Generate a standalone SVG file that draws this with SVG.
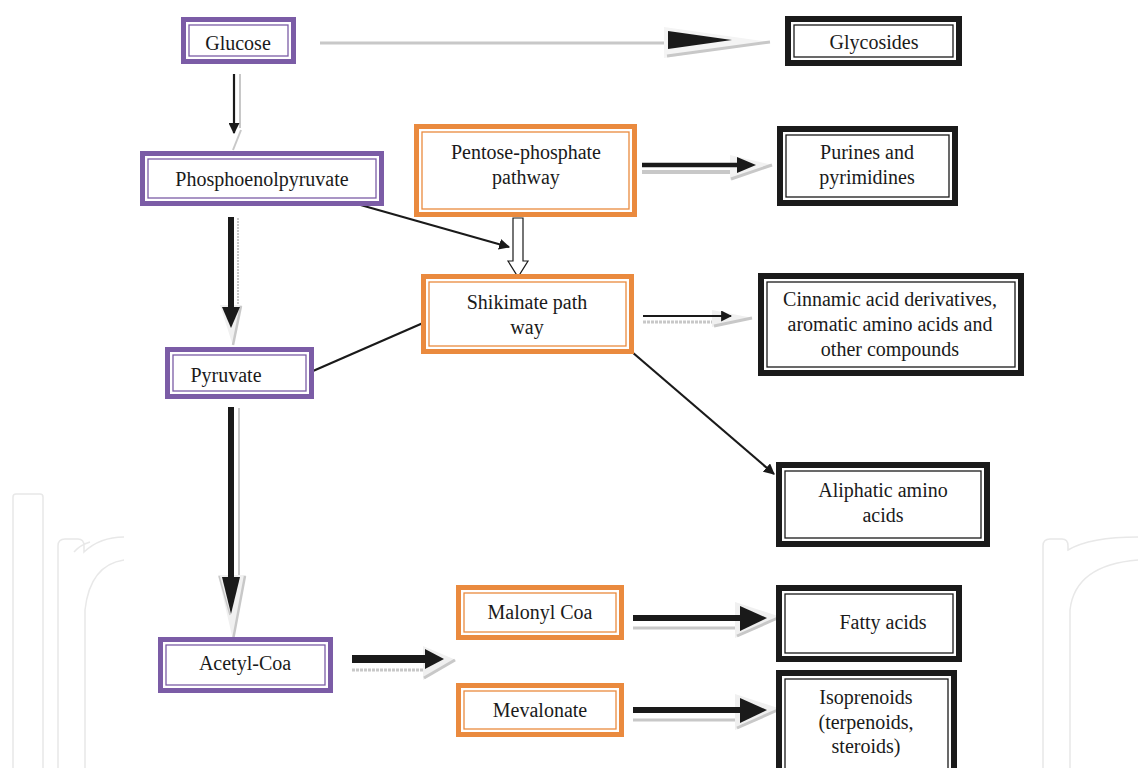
<svg xmlns="http://www.w3.org/2000/svg" width="1138" height="768" viewBox="0 0 1138 768">
<style>
.t{font-family:"Liberation Serif","Times New Roman",serif;font-size:20px;fill:#1a1a1a;text-anchor:middle}
.po{fill:#fff;stroke:#7b5ca6;stroke-width:5}
.pi{fill:none;stroke:#7b5ca6;stroke-width:1.3}
.oo{fill:#fff;stroke:#ea8a3e;stroke-width:5}
.oi{fill:none;stroke:#ea8a3e;stroke-width:1.3}
.bo{fill:#fff;stroke:#1a1a1a;stroke-width:6}
.bi{fill:none;stroke:#1a1a1a;stroke-width:1.3}
.ln{stroke:#1a1a1a;stroke-width:2.2;fill:none}
.sh{stroke:#c8c8c8;fill:none}
.hd{fill:#1a1a1a}
.wm{fill:none;stroke:#e8e8e8;stroke-width:1.5}
</style>
<defs>
<marker id="ah" viewBox="0 0 10 10" refX="9" refY="5" markerWidth="5" markerHeight="5" orient="auto" markerUnits="strokeWidth">
<path d="M0,0 L10,5 L0,10 z" fill="#1a1a1a"/>
</marker>
</defs>
<rect width="1138" height="768" fill="#fff"/>
<g id="watermark">
<rect class="wm" x="13" y="494" width="30" height="280" rx="3"/>
<path class="wm" d="M58,774 V546 Q58,539 65,539 H78 Q84,539 84,546 V552 Q100,537 124,537 M74,552 Q80,545 90,542 M85,774 V610 Q90,565 124,560"/>
<path class="wm" d="M1043,774 V546 Q1043,539 1050,539 H1062 Q1068,539 1068,546 V550 Q1090,537 1138,537 M1070,774 V610 Q1075,565 1138,560"/>
</g>
<g id="connectors">
<!-- Glucose -> Glycosides -->
<line class="sh" x1="320" y1="43" x2="668" y2="43" stroke-width="3"/>
<polygon points="664,27 770,42 664,58" fill="#f4f4f4"/>
<line class="sh" x1="667" y1="56" x2="770" y2="42" stroke-width="3"/>
<polygon class="hd" points="668,31 732,40 668,49"/>
<!-- Glucose -> PEP -->
<line class="sh" x1="240" y1="74" x2="240" y2="128" stroke-width="2"/>
<line class="sh" x1="241" y1="130" x2="233" y2="150" stroke-width="2"/>
<line class="ln" x1="234" y1="74" x2="234" y2="133" stroke-width="1.6" marker-end="url(#ah)"/>
<!-- PEP -> Pyruvate -->
<line class="sh" x1="238" y1="218" x2="238" y2="305" stroke-width="2" stroke-dasharray="2,1"/>
<polygon points="220,305 242,305 233,346" fill="#f0f0f0"/>
<line class="sh" x1="241" y1="306" x2="233" y2="345" stroke-width="2.5"/>
<line x1="231" y1="217" x2="231" y2="309" stroke="#1a1a1a" stroke-width="6"/>
<polygon class="hd" points="222,307 240,307 231,328"/>
<!-- PEP -> Shikimate -->
<line class="ln" x1="350" y1="202" x2="509" y2="247" marker-end="url(#ah)"/>
<!-- Pentose -> Shikimate (hollow) -->
<polygon points="513,218 523,218 523,261 528,261 518,277 508,261 513,261" fill="#fff" stroke="#1a1a1a" stroke-width="1.2"/>
<!-- Pentose -> Purines -->
<line class="sh" x1="642" y1="172" x2="733" y2="172" stroke-width="4"/>
<polygon points="730,155 773,165 730,180" fill="#f2f2f2"/>
<line class="sh" x1="731" y1="179" x2="772" y2="165" stroke-width="3"/>
<line x1="642" y1="165" x2="740" y2="165" stroke="#1a1a1a" stroke-width="4.5"/>
<polygon class="hd" points="737,157 756,165 737,173"/>
<!-- Shikimate -> Cinnamic -->
<line class="sh" x1="643" y1="322" x2="716" y2="322" stroke-width="3" stroke-dasharray="3,1"/>
<polygon points="712,310 753,318 712,327" fill="#f0f0f0"/>
<line class="sh" x1="714" y1="326" x2="752" y2="318" stroke-width="3"/>
<line class="ln" x1="643" y1="316" x2="731" y2="316" stroke-width="1.6" marker-end="url(#ah)"/>
<!-- Pyruvate - Shikimate -->
<line class="ln" x1="313" y1="371" x2="423" y2="323"/>
<!-- Shikimate -> Aliphatic -->
<line class="ln" x1="632" y1="352" x2="774" y2="474" marker-end="url(#ah)"/>
<!-- Pyruvate -> Acetyl-CoA -->
<line class="sh" x1="239" y1="408" x2="239" y2="575" stroke-width="2"/>
<polygon points="218,575 246,575 233,640" fill="#f0f0f0"/>
<line class="sh" x1="245" y1="576" x2="233" y2="640" stroke-width="2.5"/>
<line class="sh" x1="219" y1="576" x2="230" y2="615" stroke-width="1.5"/>
<line x1="231" y1="407" x2="231" y2="580" stroke="#1a1a1a" stroke-width="6"/>
<polygon class="hd" points="222,577 240,577 231,614"/>
<!-- Acetyl-CoA -> Malonyl/Mevalonate -->
<line class="sh" x1="352" y1="670" x2="425" y2="670" stroke-width="3" stroke-dasharray="3,1"/>
<polygon points="423,646 456,660 423,680" fill="#f0f0f0"/>
<line class="sh" x1="424" y1="678" x2="455" y2="660" stroke-width="3"/>
<line x1="352" y1="659" x2="428" y2="659" stroke="#1a1a1a" stroke-width="8"/>
<polygon class="hd" points="425,649 444,659 425,669"/>
<!-- Malonyl -> Fatty acids -->
<line class="sh" x1="633" y1="628" x2="740" y2="628" stroke-width="3"/>
<polygon points="735,602 781,617 735,638" fill="#f0f0f0"/>
<line class="sh" x1="737" y1="636" x2="780" y2="617" stroke-width="3"/>
<line x1="633" y1="618" x2="745" y2="618" stroke="#1a1a1a" stroke-width="6"/>
<polygon class="hd" points="740,606 767,618 740,631"/>
<!-- Mevalonate -> Isoprenoids -->
<line class="sh" x1="633" y1="720" x2="740" y2="720" stroke-width="3"/>
<polygon points="735,694 781,709 735,730" fill="#f0f0f0"/>
<line class="sh" x1="737" y1="728" x2="780" y2="709" stroke-width="3"/>
<line x1="633" y1="710" x2="745" y2="710" stroke="#1a1a1a" stroke-width="6"/>
<polygon class="hd" points="740,698 767,710 740,723"/>
</g>
<g id="glucose">
<rect class="po" x="183.5" y="19.5" width="110" height="42"/>
<rect class="pi" x="189" y="25" width="99" height="31"/>
<text class="t" x="238" y="50">Glucose</text>
</g>
<g id="glycosides">
<rect class="bo" x="788" y="19" width="171" height="44"/>
<rect class="bi" x="794" y="25" width="159" height="32"/>
<text class="t" x="874" y="49">Glycosides</text>
</g>
<g id="pep">
<rect class="po" x="142.5" y="153.5" width="239" height="50"/>
<rect class="pi" x="148" y="159" width="228" height="39"/>
<text class="t" x="262" y="186">Phosphoenolpyruvate</text>
</g>
<g id="pentose">
<rect class="oo" x="416.5" y="126.5" width="218" height="88"/>
<rect class="oi" x="422" y="132" width="207" height="77"/>
<text class="t" x="526" y="159">Pentose-phosphate</text>
<text class="t" x="526" y="184">pathway</text>
</g>
<g id="purines">
<rect class="bo" x="780" y="129" width="175" height="74"/>
<rect class="bi" x="786" y="135" width="163" height="62"/>
<text class="t" x="867" y="159">Purines and</text>
<text class="t" x="867" y="184">pyrimidines</text>
</g>
<g id="shikimate">
<rect class="oo" x="423.5" y="276.5" width="208" height="75"/>
<rect class="oi" x="429" y="282" width="197" height="64"/>
<text class="t" x="527" y="309">Shikimate path</text>
<text class="t" x="527" y="334">way</text>
</g>
<g id="cinnamic">
<rect class="bo" x="761" y="276" width="260" height="97"/>
<rect class="bi" x="767" y="282" width="248" height="85"/>
<text class="t" x="890" y="306">Cinnamic acid derivatives,</text>
<text class="t" x="890" y="331">aromatic amino acids and</text>
<text class="t" x="890" y="356">other compounds</text>
</g>
<g id="pyruvate">
<rect class="po" x="167.5" y="349.5" width="144" height="47"/>
<rect class="pi" x="173" y="355" width="133" height="36"/>
<text class="t" x="226" y="382">Pyruvate</text>
</g>
<g id="aliphatic">
<rect class="bo" x="779" y="465" width="208" height="79"/>
<rect class="bi" x="785" y="471" width="196" height="67"/>
<text class="t" x="883" y="497">Aliphatic amino</text>
<text class="t" x="883" y="522">acids</text>
</g>
<g id="malonyl">
<rect class="oo" x="458.5" y="587.5" width="163" height="50"/>
<rect class="oi" x="464" y="593" width="152" height="39"/>
<text class="t" x="540" y="619">Malonyl Coa</text>
</g>
<g id="fatty">
<rect class="bo" x="779" y="588" width="180" height="71"/>
<rect class="bi" x="785" y="594" width="168" height="59"/>
<text class="t" x="883" y="629">Fatty acids</text>
</g>
<g id="acetyl">
<rect class="po" x="160.5" y="639.5" width="170" height="51"/>
<rect class="pi" x="166" y="645" width="159" height="40"/>
<text class="t" x="245" y="670">Acetyl-Coa</text>
</g>
<g id="mevalonate">
<rect class="oo" x="458.5" y="685.5" width="163" height="49"/>
<rect class="oi" x="464" y="691" width="152" height="38"/>
<text class="t" x="540" y="717">Mevalonate</text>
</g>
<g id="isoprenoids">
<rect class="bo" x="779" y="673" width="175" height="100"/>
<rect class="bi" x="785" y="679" width="163" height="95"/>
<text class="t" x="866" y="704">Isoprenoids</text>
<text class="t" x="866" y="729">(terpenoids,</text>
<text class="t" x="866" y="753">steroids)</text>
</g>
</svg>
